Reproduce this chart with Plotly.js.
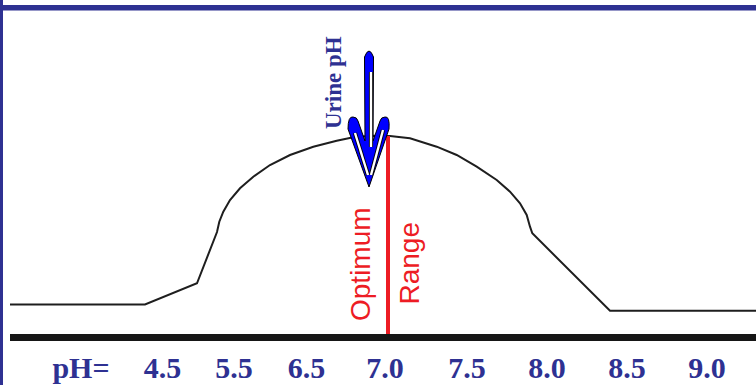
<!DOCTYPE html>
<html>
<head>
<meta charset="utf-8">
<script src="https://cdn.plot.ly/plotly-3.0.1.min.js"></script>
<style>
  html, body { margin: 0; padding: 0; background: #fff; }
  #chart { width: 756px; height: 385px; }
</style>
</head>
<body>
<div id="chart"></div>
<script>
// ---- data (horizontal position units, activity units above the baseline) ----
var tickPositions = [81, 162.5, 234, 306.5, 385, 467, 547, 627, 707];
var tickLabels = ["pH=", "4.5", "5.5", "6.5", "7.0", "7.5", "8.0", "8.5", "9.0"];

var curveX = [10, 145, 197, 217, 219.3, 223.3, 230, 240, 253.3, 270, 290, 313.3, 336.7, 353.3, 372, 390, 410, 436.7, 456.7, 476.7, 496.7, 510, 520, 526.7, 530, 532.3, 610, 756];
var curveY = [29.5, 29.5, 50.7, 102, 112.3, 122.3, 134, 145.7, 157.3, 169, 179, 187.3, 193.3, 196.7, 198.3, 198, 195.7, 187.3, 179, 167.3, 154, 142.3, 130.7, 119, 107.3, 100.7, 23.3, 23.3];

var optimumX = [388, 388];
var optimumY = [0, 198];

var urineX = 369;      // arrow position
var urineTop = 284;    // top of arrow shaft
var urineTip = 147;    // arrow tip

var NAVY = "#2e3192";
var RED = "#ed1c24";

var traces = [
  { x: curveX, y: curveY, mode: "lines", line: { color: "#1e1e1e", width: 2 }, hoverinfo: "skip" },
  { x: optimumX, y: optimumY, mode: "lines", line: { color: RED, width: 4 }, hoverinfo: "skip" }
];

// arrow geometry built from urineX/urineTop/urineTip
var ax0 = urineX, tipY = urineTip, shaftTop = urineTop;
function pt(dx, dy) { return (ax0 + dx) + "," + (tipY + dy); }
var arrowPath = "M " + pt(0, 0) +
  " L " + pt(-21, 58) +
  " Q " + pt(-21, 71) + " " + pt(-16, 70) +
  " Q " + pt(-12, 70) + " " + pt(-11, 66) +
  " L " + pt(-4, 46) +
  " L " + (ax0 - 4.5) + "," + (shaftTop - 7) +
  " Q " + ax0 + "," + (shaftTop + 5) + " " + (ax0 + 4.5) + "," + (shaftTop - 7) +
  " L " + pt(4, 46) +
  " L " + pt(11, 66) +
  " Q " + pt(12, 70) + " " + pt(16, 70) +
  " Q " + pt(21, 71) + " " + pt(20, 58) +
  " Z";

function innerStroke(x0, y0, x1, y1) {
  return [
    { type: "line", xref: "x", yref: "y", x0: x0, y0: y0, x1: x1, y1: y1, line: { color: "#000", width: 4.2 } },
    { type: "line", xref: "x", yref: "y", x0: x0, y0: y0, x1: x1, y1: y1, line: { color: "#fff", width: 2.4 } }
  ];
}

var shapes = [
  // frame: left bar and top bar
  { type: "rect", xref: "paper", yref: "paper", x0: -10/746, x1: -7/746, y0: -51/334, y1: 1, fillcolor: NAVY, line: { width: 0 } },
  { type: "rect", xref: "paper", yref: "paper", x0: -10/746, x1: 1, y0: (334-10.5)/334, y1: (334-5)/334, fillcolor: NAVY, line: { width: 0 } },
  // arrow body
  { type: "path", xref: "x", yref: "y", path: arrowPath, fillcolor: "#0000ff", line: { color: "#000", width: 1 } }
].concat(
  innerStroke(ax0 + 2, shaftTop - 22, ax0 + 2, tipY + 40),
  innerStroke(ax0 - 14, tipY + 54, ax0 - 1, tipY + 12),
  innerStroke(ax0 + 14, tipY + 57, ax0 + 2, tipY + 12)
);

var annotations = [
  { x: 360, y: 70, xref: "x", yref: "y", text: "Optimum", textangle: -90, showarrow: false,
    font: { family: "Liberation Sans, Arial, sans-serif", size: 28, color: RED } },
  { x: 409, y: 70.5, xref: "x", yref: "y", text: "Range", textangle: -90, showarrow: false,
    font: { family: "Liberation Sans, Arial, sans-serif", size: 28, color: RED } },
  { x: 333, y: 251, xref: "x", yref: "y", text: "<b>Urine pH</b>", textangle: -90, showarrow: false,
    font: { family: "Liberation Serif, Times New Roman, serif", size: 23, color: NAVY } }
];

var layout = {
  width: 756, height: 385,
  margin: { l: 10, r: 0, t: 0, b: 51 },
  paper_bgcolor: "#fff", plot_bgcolor: "#fff",
  showlegend: false,
  xaxis: {
    range: [10, 756], showgrid: false, zeroline: false,
    showline: true, linecolor: "#161616", linewidth: 7,
    tickmode: "array", tickvals: tickPositions, ticktext: tickLabels,
    ticks: "", ticklabelstandoff: 1,
    tickfont: { family: "Liberation Serif, Times New Roman, serif", size: 30, color: NAVY, weight: "bold" },
    fixedrange: true
  },
  yaxis: {
    range: [0, 334], visible: false, showgrid: false, zeroline: false, fixedrange: true
  },
  shapes: shapes,
  annotations: annotations
};

Plotly.newPlot("chart", traces, layout, { displayModeBar: false, staticPlot: true });
</script>
</body>
</html>
